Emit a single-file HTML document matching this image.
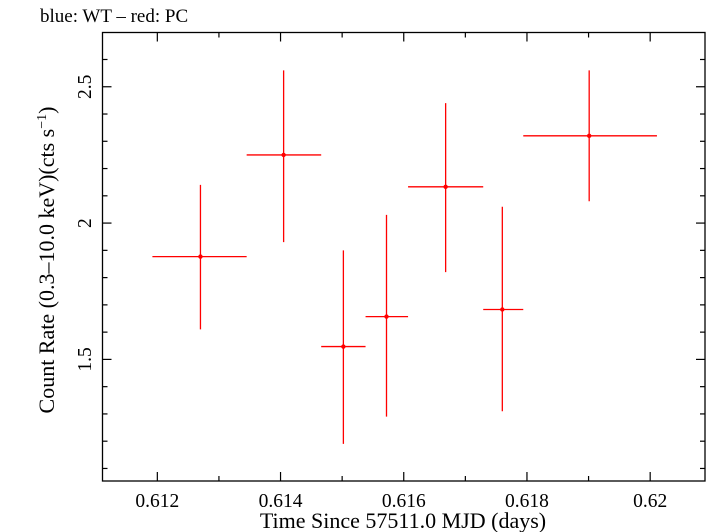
<!DOCTYPE html>
<html><head><meta charset="utf-8"><style>
html,body{margin:0;padding:0;background:#fff}
svg{display:block;font-family:"Liberation Serif",serif}
</style></head><body>
<svg id="chart" width="709" height="532" xmlns="http://www.w3.org/2000/svg">
<text x="40" y="22" font-size="19">blue: WT – red: PC</text>
<g id="axes"></g>
<g id="points"></g>
<text x="403" y="528" font-size="22" text-anchor="middle">Time Since 57511.0 MJD (days)</text>
<text transform="translate(54,260) rotate(-90)" font-size="22" text-anchor="middle">Count Rate (0.3–10.0 keV)(cts s<tspan font-size="14" dy="-8">−1</tspan><tspan dy="8">)</tspan></text>
</svg>
<script>
const times=[0.6127,0.61405,0.61502,0.61572,0.61668,0.6176,0.61901];
const timeLo=[0.61192,0.61345,0.61466,0.61538,0.61607,0.61729,0.61794];
const timeHi=[0.61345,0.61466,0.61538,0.61607,0.61729,0.61794,0.62011];
const rates=[1.877,2.25,1.547,1.657,2.133,1.683,2.32];
const rateHi=[2.14,2.56,1.90,2.03,2.44,2.06,2.56];
const rateLo=[1.61,1.93,1.19,1.29,1.82,1.31,2.08];
const xTicks=[0.612,0.614,0.616,0.618,0.62];
const xTickLabels=["0.612","0.614","0.616","0.618","0.62"];
const yTicks=[1.5,2,2.5];
const yTickLabels=["1.5","2","2.5"];
const L=102.5,R=705,T=32.5,B=481;
const xMin=0.61111,xMax=0.62089,yMin=1.054,yMax=2.699;
const sx=v=>L+(v-xMin)/(xMax-xMin)*(R-L);
const sy=v=>B-(v-yMin)/(yMax-yMin)*(B-T);
const NS="http://www.w3.org/2000/svg";
function mk(p,tag,a){const e=document.createElementNS(NS,tag);for(const k in a)e.setAttribute(k,a[k]);p.appendChild(e);return e;}
const ax=document.getElementById('axes');
const fr=mk(ax,'rect',{x:L,y:T,width:R-L,height:B-T,fill:'none',stroke:'#000','stroke-width':1.3});


for(let i=0;i<=10;i++){const v=0.611+i*0.001;if(v<xMin||v>xMax)continue;
 const maj=Math.abs(Math.round(v*1000)%2)===0;const x=sx(v),len=maj?9:5;
 const t1=mk(ax,'line',{x1:x,x2:x,y1:B,y2:B-len,stroke:'#000','stroke-width':1.2});
 
 
 const t2=mk(ax,'line',{x1:x,x2:x,y1:T,y2:T+len,stroke:'#000','stroke-width':1.2});
 
 }
xTicks.forEach((v,i)=>{const t=mk(ax,'text',{x:sx(v),y:507,'font-size':19.5,'text-anchor':'middle'});t.textContent=xTickLabels[i];
 
 });
for(let i=11;i<=27;i++){const v=i/10;if(v<yMin||v>yMax)continue;
 const maj=i%5===0;const y=sy(v),len=maj?9:5;
 const t1=mk(ax,'line',{x1:L,x2:L+len,y1:y,y2:y,stroke:'#000','stroke-width':1.2});
 
 
 const t2=mk(ax,'line',{x1:R,x2:R-len,y1:y,y2:y,stroke:'#000','stroke-width':1.2});
 
 }
yTicks.forEach((v,i)=>{const t=mk(ax,'text',{transform:`translate(91,${sy(v)}) rotate(-90)`,'font-size':19.5,'text-anchor':'middle'});t.textContent=yTickLabels[i];
 
 });
const pg=document.getElementById('points');
times.forEach((t,i)=>{const g=mk(pg,'g',{});
 
 
 mk(g,'line',{x1:sx(timeLo[i]),x2:sx(timeHi[i]),y1:sy(rates[i]),y2:sy(rates[i]),stroke:'#f00','stroke-width':1.3});
 mk(g,'line',{x1:sx(t),x2:sx(t),y1:sy(rateLo[i]),y2:sy(rateHi[i]),stroke:'#f00','stroke-width':1.3});
 mk(g,'circle',{cx:sx(t),cy:sy(rates[i]),r:2.2,fill:'#f00'});});
</script>
</body></html>
